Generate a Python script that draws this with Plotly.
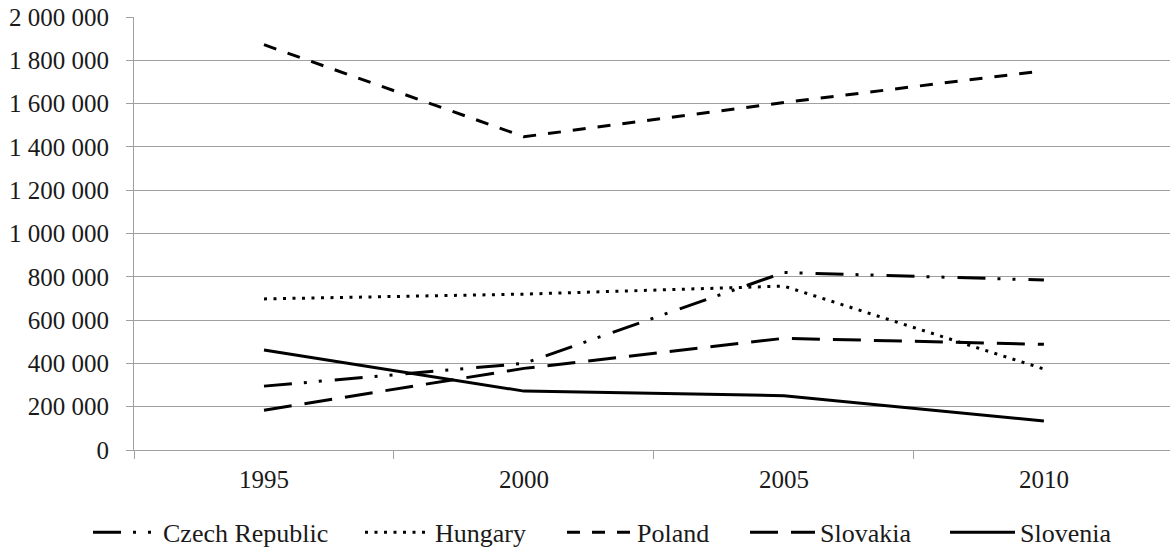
import plotly.graph_objects as go

years = ["1995", "2000", "2005", "2010"]

czech_republic = [295000, 400000, 820000, 785000]
hungary = [698000, 720000, 757000, 374000]
poland = [1872000, 1447000, 1605000, 1752000]
slovakia = [184000, 377000, 516000, 488000]
slovenia = [462000, 272000, 251000, 134000]

names = ["Czech Republic", "Hungary", "Poland", "Slovakia", "Slovenia"]
values = [czech_republic, hungary, poland, slovakia, slovenia]
dashes = ["28px,12px,3px,12px,3px,13px", "3px,6.5px", "13px,12px", "28px,13px", "solid"]

# left edge (px) of each legend entry along the bottom row
legend_left_px = [93, 365, 567, 750, 950]

y_ticks = list(range(0, 2000001, 200000))

font_family = "Liberation Serif"
grid_color = "#a0a0a0"
text_color = "#1a1a1a"
plot_left, plot_width = 134, 1036

fig = go.Figure()
legend_layouts = {}
for i, (name, vals, dash) in enumerate(zip(names, values, dashes)):
    key = "legend" if i == 0 else f"legend{i + 1}"
    fig.add_trace(go.Scatter(
        x=years, y=vals, name=name, mode="lines",
        line=dict(color="black", width=3, dash=dash),
        legend=key,
    ))
    legend_layouts[key] = dict(
        orientation="h",
        x=(legend_left_px[i] - 5 - plot_left) / plot_width, xanchor="left",
        y=-0.19, yanchor="middle",
        font=dict(family=font_family, size=26, color=text_color),
        itemwidth=65, bgcolor="rgba(0,0,0,0)",
    )

fig.update_layout(
    width=1170, height=549,
    margin=dict(l=plot_left, r=0, t=17, b=99, autoexpand=False),
    paper_bgcolor="white", plot_bgcolor="white",
    separators=". ",
    font=dict(family=font_family, size=25, color=text_color),
    showlegend=True,
    xaxis=dict(
        type="category", range=[-0.5, 3.485],
        showgrid=False, showline=True, linecolor=grid_color, linewidth=1,
        ticks="outside", tickson="boundaries", ticklen=8, tickcolor=grid_color,
        ticklabelstandoff=7,
        tickfont=dict(family=font_family, size=25, color=text_color),
    ),
    yaxis=dict(
        range=[0, 2000000], tickvals=y_ticks, tickformat=",d",
        showgrid=True, gridcolor=grid_color, gridwidth=1,
        showline=True, linecolor=grid_color, linewidth=1,
        ticks="outside", ticklen=7, tickcolor=grid_color,
        ticklabelstandoff=12, zeroline=False,
        tickfont=dict(family=font_family, size=25, color=text_color),
    ),
    **legend_layouts,
)

fig.write_html("out.html")
